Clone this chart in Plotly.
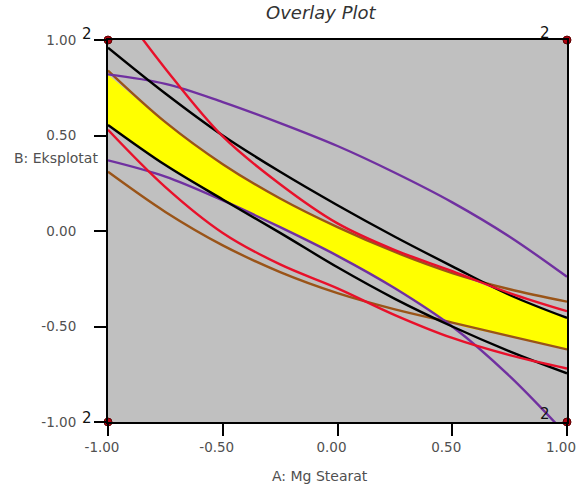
import numpy as np
import plotly.graph_objects as go

# Factor grid (coded units) shared by every contour
a_coded = [-1.0, -0.75, -0.5, -0.25, 0.0, 0.25, 0.5, 0.75, 1.0]

# Contour limits of each response: B value along A
purple_upper = [0.82, 0.77, 0.675, 0.565, 0.445, 0.305, 0.15, -0.03, -0.24]
purple_lower = [0.37, 0.285, 0.16, 0.02, -0.13, -0.30, -0.50, -0.76, -1.07]
black_upper = [0.96, 0.72, 0.50, 0.31, 0.135, -0.03, -0.185, -0.335, -0.455]
black_lower = [0.555, 0.345, 0.165, -0.01, -0.19, -0.355, -0.50, -0.63, -0.745]
red_upper = [1.25, 0.85, 0.495, 0.245, 0.04, -0.10, -0.21, -0.325, -0.42]
red_lower = [0.53, 0.23, -0.01, -0.175, -0.30, -0.44, -0.56, -0.65, -0.72]
brown_upper = [0.84, 0.57, 0.35, 0.17, 0.02, -0.11, -0.22, -0.305, -0.37]
brown_lower = [0.31, 0.10, -0.075, -0.215, -0.325, -0.41, -0.48, -0.55, -0.62]

# Design points at the corners
design_a = [-1, 1, -1, 1]
design_b = [1, 1, -1, -1]
design_reps = ["2", "2", "2", "2"]

tick_vals = [-1.0, -0.5, 0.0, 0.5, 1.0]
tick_text = ["-1.00", "-0.50", "0.00", "0.50", "1.00"]

# Feasible window: below every upper limit and above every lower limit
top_env = np.minimum.reduce([purple_upper, black_upper, red_upper, brown_upper])
bot_env = np.maximum.reduce([purple_lower, black_lower, red_lower, brown_lower])

fig = go.Figure()
fig.add_trace(go.Scatter(x=a_coded, y=bot_env, mode="lines",
                         line=dict(width=0, shape="spline", color="yellow"),
                         hoverinfo="skip", showlegend=False))
fig.add_trace(go.Scatter(x=a_coded, y=top_env, mode="lines", fill="tonexty",
                         fillcolor="#FFFF00",
                         line=dict(width=0, shape="spline", color="yellow"),
                         hoverinfo="skip", showlegend=False))

curves = [
    (brown_upper, "#9A5418"), (brown_lower, "#9A5418"),
    (purple_upper, "#7030A0"), (purple_lower, "#7030A0"),
    (black_upper, "#000000"), (black_lower, "#000000"),
    (red_upper, "#E8102A"), (red_lower, "#E8102A"),
]
for ys, col in curves:
    fig.add_trace(go.Scatter(x=a_coded, y=ys, mode="lines",
                             line=dict(color=col, width=2.4, shape="spline"),
                             showlegend=False))

fig.add_trace(go.Scatter(x=design_a, y=design_b, mode="markers",
                         marker=dict(size=8, color="#B00010",
                                     line=dict(color="#600000", width=1)),
                         cliponaxis=False, showlegend=False))

FONT = "DejaVu Sans, Verdana, sans-serif"
label_font = dict(family=FONT, size=13.5, color="#505050")

axis_common = dict(
    range=[-1, 1], tickvals=tick_vals, ticktext=tick_text,
    ticks="outside", ticklen=12, tickwidth=2, tickcolor="#000000",
    showline=True, linecolor="#000000", linewidth=2, mirror=True,
    showgrid=False, zeroline=False, tickfont=label_font, automargin=False,
    ticklabeloverflow="allow",
)
fig.update_xaxes(**axis_common, ticklabelshift=-6)
fig.update_yaxes(**axis_common, ticklabelstandoff=15)

fig.update_layout(
    width=576, height=484,
    margin=dict(l=107.5, r=8.5, t=40, b=62),
    paper_bgcolor="white", plot_bgcolor="#C0C0C0",
    showlegend=False,
)


def px_to_paper(px, py):
    return (px - 107.5) / 460, (422 - py) / 382


def note(text, px, py, font, xanchor="center"):
    x, y = px_to_paper(px, py)
    fig.add_annotation(text=text, xref="paper", yref="paper", x=x, y=y,
                       xanchor=xanchor, yanchor="middle", showarrow=False,
                       font=font)


# Title, axis names and replicate counts
note("<i>Overlay Plot</i>", 321, 12, dict(family=FONT, size=18, color="#333333"))
note("A: Mg Stearat", 320, 476, dict(family=FONT, size=14, color="#505050"))
note("B: Eksplotat", 11, 158, dict(family=FONT, size=14, color="#505050"),
     xanchor="left")
rep_pos = [(86, 34), (545, 33), (86, 418), (545, 414)]
for (px, py), txt in zip(rep_pos, design_reps):
    note(txt, px, py, dict(family=FONT, size=15, color="#111111"))

fig.write_html("out.html")
